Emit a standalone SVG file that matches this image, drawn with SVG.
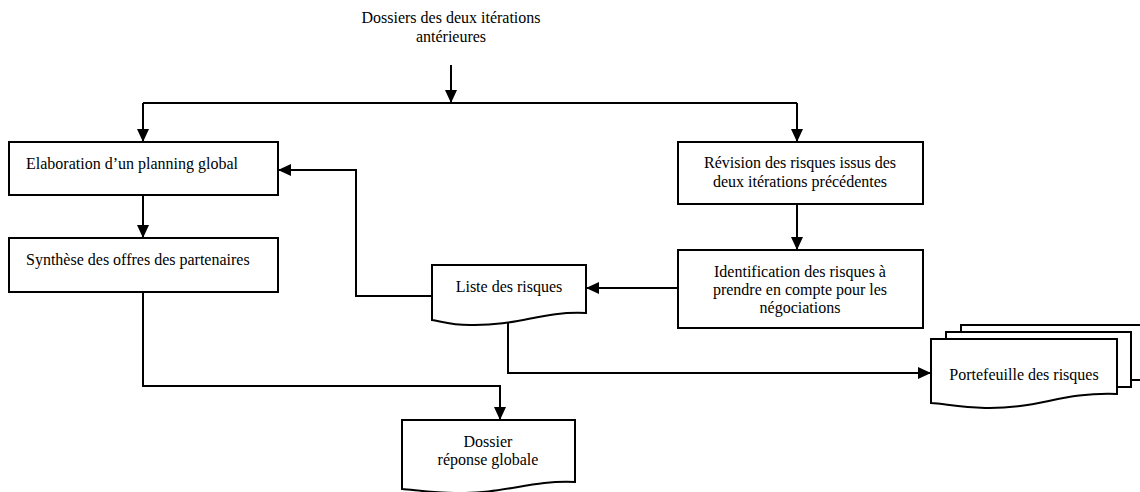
<svg xmlns="http://www.w3.org/2000/svg" width="1140" height="492" viewBox="0 0 1140 492">
<defs>
<style>
.box{fill:#fff;stroke:#000;stroke-width:2}
.con{fill:none;stroke:#000;stroke-width:2}
.c{text-anchor:middle}
</style>
<marker id="arr" markerUnits="userSpaceOnUse" markerWidth="13" markerHeight="12" refX="13" refY="6" orient="auto">
<path d="M0,0 L13,6 L0,12 Z" fill="#000"/>
</marker>
</defs>
<rect width="1140" height="492" fill="#fff"/>

<g font-family="'Liberation Serif', 'Times New Roman', serif" font-size="16" fill="#000">
<g id="input-label">
<text class="c" x="451" y="23">Dossiers des deux itérations</text>
<text class="c" x="451" y="42">antérieures</text>
</g>

<g id="connectors">
<path class="con" d="M451,65 V103" marker-end="url(#arr)"/>
<path class="con" d="M143,103 H797"/>
<path class="con" d="M143,103 V142" marker-end="url(#arr)"/>
<path class="con" d="M797,103 V142" marker-end="url(#arr)"/>
<path class="con" d="M143,195 V238" marker-end="url(#arr)"/>
<path class="con" d="M797,204 V250" marker-end="url(#arr)"/>
<path class="con" d="M678,288 H586" marker-end="url(#arr)"/>
<path class="con" d="M432,296 H356 V170 H278" marker-end="url(#arr)"/>
<path class="con" d="M508,322 V373 H931" marker-end="url(#arr)"/>
<path class="con" d="M143,292 V386 H500 V420" marker-end="url(#arr)"/>
</g>

<g id="elaboration">
<rect class="box" x="9" y="142" width="269" height="53"/>
<text x="26" y="169">Elaboration d’un planning global</text>
</g>

<g id="synthese">
<rect class="box" x="9" y="238" width="269" height="54"/>
<text x="26" y="265">Synthèse des offres des partenaires</text>
</g>

<g id="revision">
<rect class="box" x="678" y="142" width="245" height="62"/>
<text class="c" x="800" y="168">Révision des risques issus des</text>
<text class="c" x="800" y="187">deux itérations précédentes</text>
</g>

<g id="identification">
<rect class="box" x="678" y="250" width="245" height="78"/>
<text class="c" x="800" y="277">Identification des risques à</text>
<text class="c" x="800" y="295">prendre en compte pour les</text>
<text class="c" x="800" y="313">négociations</text>
</g>

<g id="liste-risques">
<path class="box" d="M432,265 H586 V313 C540,311 520,326 470,325 C450,325 440,321 432,320 Z"/>
<text class="c" x="509" y="292">Liste des risques</text>
</g>

<g id="portefeuille-risques">
<path class="box" d="M961,332 V325 H1146 V380 H1131"/>
<path class="box" d="M946,339 V332 H1131 V387 H1117"/>
<path class="box" d="M931,339 H1117 V394 C1060,392 1040,409 985,408 C960,407 945,404 931,403 Z"/>
<text class="c" x="1024" y="380">Portefeuille des risques</text>
</g>

<g id="dossier-reponse">
<path class="box" d="M402,420 H575 V482 C530,480 505,494 455,493 C435,493 415,490 402,489 Z"/>
<text class="c" x="488" y="447">Dossier</text>
<text class="c" x="488" y="465">réponse globale</text>
</g>
</g>
</svg>
